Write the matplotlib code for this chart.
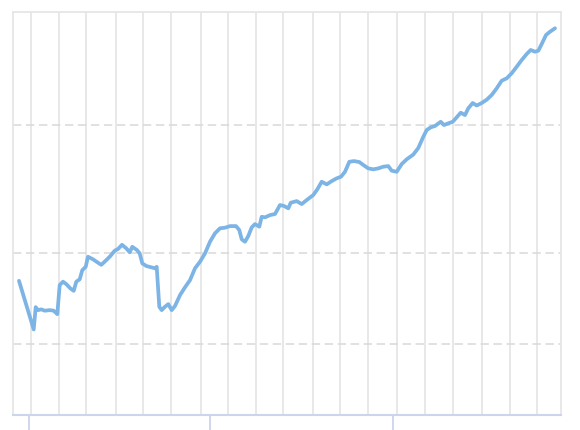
import matplotlib
matplotlib.use('Agg')
import matplotlib.pyplot as plt
from matplotlib.ticker import NullLocator, NullFormatter

# Series (x in days from axis start, y on a log scale)
days = [6, 20.7, 22.7, 25, 28.3, 31.7, 36.7, 40.7, 44.3, 46.7, 50, 53.3, 57.3, 60.7,
        63.3, 66.7, 69.3, 72.7, 75, 80, 85, 88.3, 93.3, 97.3, 101.7, 105, 109, 113.3,
        116.7, 119.3, 124, 126.7, 129.3, 133.3, 138.3, 142, 143.7, 146.3, 148.7, 152,
        155.3, 158.7, 162, 167, 172, 177, 182, 187, 192, 197, 202, 207, 212, 217, 223,
        226.3, 228.7, 232, 235.3, 238.7, 242, 246.3, 248.7, 252, 257, 262, 267, 271,
        275.3, 277.7, 283.7, 288.7, 293.7, 300.3, 304.3, 308.7, 313.7, 318.7, 323.7,
        328, 332, 336.3, 341, 346.3, 350.3, 355.3, 360.3, 365.3, 370.3, 375.3, 378.7,
        383.7, 388.7, 393.7, 400.3, 405.3, 410.3, 413.7, 417.7, 422, 427.7, 431, 435.3,
        439.7, 443.7, 447.7, 452, 455.3, 459.7, 463.7, 468.7, 473.7, 478.7, 483.7,
        488.7, 493.7, 498.7, 503.7, 508.7, 513.7, 517.7, 522, 525.3, 528.7, 533, 537,
        542]
values = [183.0, 156.9, 168.4, 166.8, 167.2, 166.5, 166.8, 166.5, 164.7, 180.6,
          182.5, 181.1, 178.7, 177.3, 182.5, 183.9, 189.3, 191.3, 197.5, 195.9, 193.8,
          192.5, 195.4, 197.9, 201.3, 202.4, 205.1, 202.8, 200.3, 203.8, 201.7, 199.6,
          193.4, 191.8, 191.0, 190.4, 191.3, 168.6, 166.8, 168.6, 170.0, 166.8, 169.0,
          174.9, 179.3, 183.4, 190.4, 194.4, 199.6, 207.1, 212.7, 216.1, 216.5, 217.6,
          217.6, 214.9, 208.7, 207.1, 210.9, 216.7, 219.0, 217.2, 224.1, 223.7, 225.3,
          226.1, 232.6, 231.9, 230.2, 234.3, 235.5, 233.3, 236.3, 240.1, 244.4, 250.4,
          248.3, 250.9, 253.1, 254.4, 258.4, 266.7, 267.3, 266.5, 264.0, 261.2, 260.4,
          261.2, 262.6, 263.1, 259.3, 258.4, 264.8, 268.8, 272.9, 278.6, 288.7, 294.9,
          297.4, 298.7, 302.7, 299.6, 301.2, 302.7, 307.0, 311.5, 309.2, 315.9, 321.2,
          318.7, 321.2, 324.6, 329.5, 336.5, 344.7, 347.3, 352.9, 360.3, 368.0, 375.1,
          379.9, 377.8, 379.0, 387.1, 398.3, 402.5, 406.9]

grid_days = [18, 46, 73, 103, 130, 158, 188, 215, 243, 270, 300, 327, 355, 384,
             412, 440, 469, 497, 524]
tick_days = [16, 197, 380]
levels = [150, 200, 300]

fig = plt.figure(figsize=(5.8, 4.3), dpi=100)
ax = fig.add_axes([13 / 580, 15 / 430, 548 / 580, 403 / 430])

ax.plot(days, values, color='#7db4e6', lw=2.7, solid_joinstyle='round',
        solid_capstyle='round', zorder=3)

ax.set_yscale('log')
ax.set_ylim(119.7, 428.4)
ax.set_xlim(0, 548)

# horizontal dashed grid
ax.set_yticks(levels)
ax.yaxis.set_minor_locator(NullLocator())
ax.yaxis.set_major_formatter(NullFormatter())
ax.yaxis.set_minor_formatter(NullFormatter())
ax.tick_params(axis='y', which='both', length=0)
ax.yaxis.grid(True, color='#d9d9d9', lw=1.1, linestyle=(0, (5.5, 3)))

# vertical solid grid + major ticks
ax.set_xticks(tick_days)
ax.set_xticks(grid_days, minor=True)
ax.xaxis.set_major_formatter(NullFormatter())
ax.tick_params(axis='x', which='major', direction='out', length=11,
               width=1.3, color='#ccd6eb')
ax.tick_params(axis='x', which='minor', length=0)
ax.xaxis.grid(True, which='minor', color='#e6e6e6', lw=1.3)
ax.xaxis.grid(False, which='major')

for side in ['left', 'top', 'right']:
    ax.spines[side].set_color('#e6e6e6')
    ax.spines[side].set_linewidth(1.3)
ax.spines['bottom'].set_color('#ccd6eb')
ax.spines['bottom'].set_linewidth(1.5)

fig.savefig('out.png', dpi=100)
